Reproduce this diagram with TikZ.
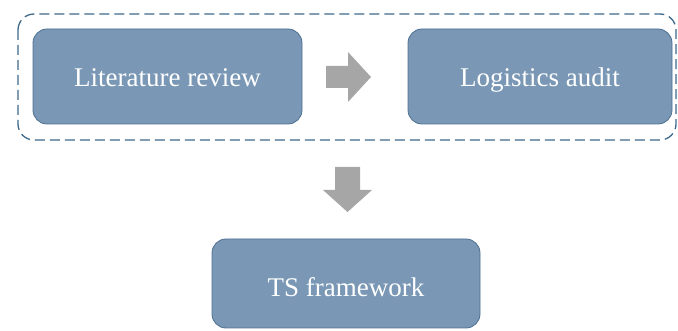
\documentclass[tikz,border=0pt]{standalone}
\usepackage{fontspec}
\setmainfont{Liberation Serif}
\definecolor{boxfill}{RGB}{122,152,181}
\definecolor{boxline}{RGB}{78,112,145}
\definecolor{groupline}{RGB}{62,105,138}
\definecolor{arrowgray}{RGB}{166,166,166}
\begin{document}
\begin{tikzpicture}[x=1pt,y=-1pt,
  stage/.style={draw=boxline, line width=0.8pt, fill=boxfill, rounded corners=14pt,
    text=white, font=\fontsize{27}{30}\selectfont, inner sep=0pt,
    text depth=0pt, text height=21pt},
  group/.style={draw=groupline, line width=1.3pt, dash pattern=on 10pt off 5pt, rounded corners=16pt},
  blockarrow/.style={fill=arrowgray, draw=none}]
\useasboundingbox (0,0) rectangle (678,331);
% dashed frame around the two first stages
\draw[group] (18,14) rectangle (676,140);
% stages
\node[stage, minimum width=269pt, minimum height=95pt] (lit) at (167.5,76.5) {Literature review};
\node[stage, minimum width=264pt, minimum height=95pt] (log) at (540,76.5) {Logistics audit};
\node[stage, minimum width=268pt, minimum height=89pt, text height=27pt] (ts) at (346,283.5) {TS framework};
% block arrows
\fill[blockarrow] (326,66) -- (348,66) -- (348,52) -- (371,77) -- (348,102) -- (348,88) -- (326,88) -- cycle;
\fill[blockarrow] (335,167) -- (360,167) -- (360,190) -- (372,190) -- (347.5,212) -- (323,190) -- (335,190) -- cycle;
\end{tikzpicture}
\end{document}
